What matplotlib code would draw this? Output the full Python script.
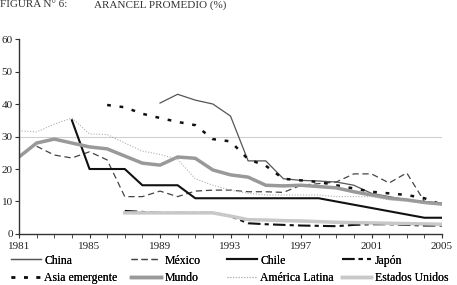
import matplotlib.pyplot as plt
import numpy as np

# ===== Datos =====
years = np.arange(1981, 2006)

china_years = np.arange(1989, 2006)
china = [40.3, 43, 41.2, 40, 36.3, 22.5, 22.5, 17, 16.5, 16.3, 16, 15, 12.5, 11.5, 10.5, 10, 9.5]

mexico_years = np.arange(1982, 2006)
mexico = [27, 24.3, 23.4, 25.3, 22.8, 11.5, 11.5, 13.2, 11.5, 13.2, 13.5, 13.5, 13, 13, 12.8,
          15, 15.5, 16, 18.5, 18.5, 15.7, 18.8, 10, 9]

chile_years = np.arange(1984, 2006)
chile = [35, 20, 20, 20, 15, 15, 15, 11, 11, 11, 11, 11, 11, 11, 11, 10, 9, 8, 7, 6, 5, 5]

japon_years = np.arange(1987, 2006)
japon = [7.1, 6.8, 6.5, 6.5, 6.5, 6.5, 5.5, 3.3, 3, 2.8, 2.6, 2.5, 2.4, 2.8, 3, 3, 2.8, 2.6, 2.6]

asia_years = np.arange(1986, 2006)
asia = [39.7, 39, 37, 35.7, 34.5, 33.5, 29.2, 28.5, 23, 21, 17, 16.5, 16, 15, 14, 13, 12.5, 12, 11, 9]

mundo = [23.7, 28, 29.2, 28, 26.8, 26.2, 24, 21.8, 21.2, 23.7, 23.3, 19.7, 18.2, 17.5, 15,
         14.8, 15, 14.6, 14.2, 13, 12, 11, 10.5, 9.7, 9.2]

al = [31.8, 31.4, 33.8, 35.7, 30.8, 30.6, 28, 25.5, 24.5, 23, 17, 15, 13.5, 12.5, 12, 12,
      12, 12, 11.5, 11.5, 11.5, 10.5, 10, 9.5, 9]

eeuu_years = np.arange(1987, 2006)
eeuu = [6.5, 6.5, 6.5, 6.5, 6.5, 6.5, 5.5, 4.4, 4.3, 4.1, 4, 3.8, 3.6, 3.5, 3.4, 3.3, 3.2, 3.1, 3]

# ===== Figura =====
fig = plt.figure(figsize=(4.57, 2.85), dpi=100)
plt.rcParams['font.family'] = ['Liberation Serif', 'DejaVu Serif']
ax = fig.add_axes([0.0416, 0.179, 0.9256, 0.684])

ax.axhline(30, color='#d0d0d0', lw=0.8, zorder=1)

l_china, = ax.plot(china_years, china, color='#555555', lw=0.9, label='China')
l_mex, = ax.plot(mexico_years, mexico, color='#444444', lw=0.9, dashes=(5, 3), label='México')
l_chile, = ax.plot(chile_years, chile, color='#111111', lw=1.5, label='Chile')
l_jap, = ax.plot(japon_years, japon, color='#111111', lw=1.5, dashes=(6, 2, 2, 2), label='Japón')
l_asia, = ax.plot(asia_years, asia, color='#111111', lw=1.8, dashes=(1.5, 3.5), label='Asia emergente')
l_mundo, = ax.plot(years, mundo, color='#999999', lw=2.5, label='Mundo')
l_al, = ax.plot(years, al, color='#b0b0b0', lw=0.8, dashes=(1, 1.5), label='América Latina')
l_eeuu, = ax.plot(eeuu_years, eeuu, color='#c8c8c8', lw=2.5, label='Estados Unidos')

ax.set_xlim(1981, 2005)
ax.set_ylim(0, 60)
ax.set_yticks(range(0, 61, 10))
ax.set_xticks(range(1981, 2006, 4))
ax.set_xticks(range(1981, 2006), minor=True)
for s in ['top', 'right']:
    ax.spines[s].set_visible(False)
for s in ['left', 'bottom']:
    ax.spines[s].set_color('#333333')
    ax.spines[s].set_linewidth(1.0)
ax.tick_params(axis='both', which='both', direction='out', color='#333333', labelsize=8,
               labelcolor='#222222')
ax.tick_params(axis='x', which='major', length=3, pad=3)
ax.tick_params(axis='x', which='minor', length=3)
ax.tick_params(axis='y', length=3, pad=1.5)

# Leyenda: una columna por cada par, colocadas a mano
columnas = [(l_china, l_asia, 0.022), (l_mex, l_mundo, 0.285),
            (l_chile, l_al, 0.495), (l_jap, l_eeuu, 0.745)]
for h1, h2, x0 in columnas:
    leg = fig.legend(handles=[h1, h2], labels=[h1.get_label(), h2.get_label()],
                     loc='lower left', bbox_to_anchor=(x0, 0.0), frameon=False,
                     fontsize=8.5, handlelength=2.5, handletextpad=0.3, labelspacing=0.45,
                     borderpad=0.1, borderaxespad=0.0)
    fig.add_artist(leg)

# Título
fig.text(0.0, 1.0, 'FIGURA N° 6:', fontsize=8, va='top', ha='left', color='#333333')
fig.text(0.205, 1.0, 'ARANCEL PROMEDIO (%)', fontsize=8, va='top', ha='left', color='#333333')

plt.savefig('out.png', dpi=100)
